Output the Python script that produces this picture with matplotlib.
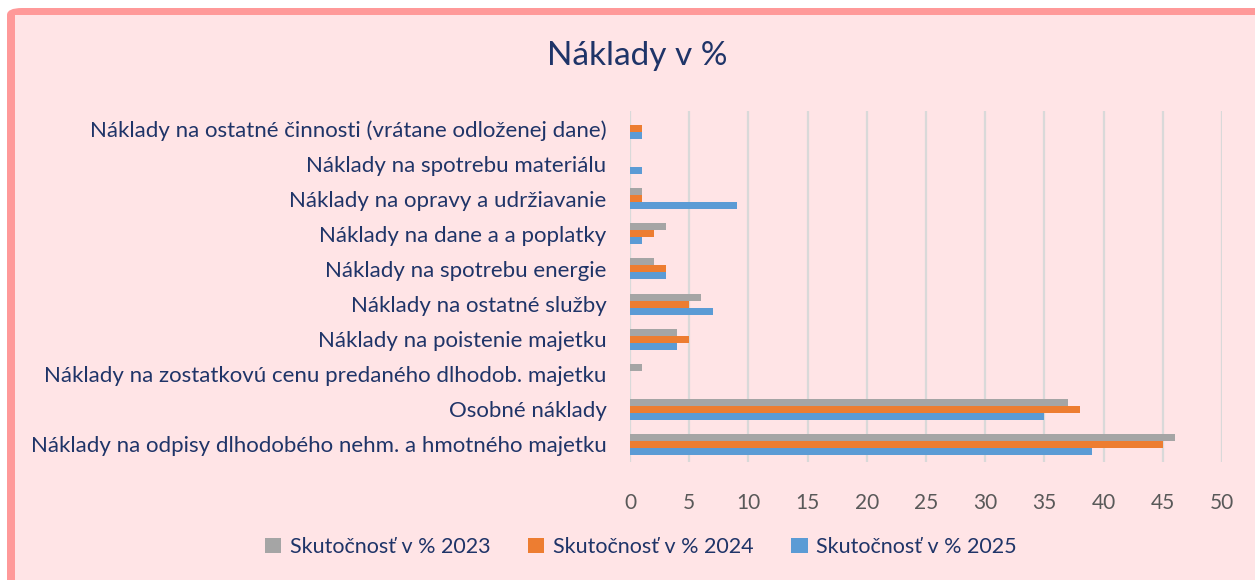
import matplotlib.pyplot as plt
import numpy as np
from matplotlib.patches import FancyBboxPatch, Rectangle

# categories listed bottom -> top
categories = [
    "Náklady na odpisy dlhodobého nehm. a hmotného majetku",
    "Osobné náklady",
    "Náklady na zostatkovú cenu predaného dlhodob. majetku",
    "Náklady na poistenie majetku",
    "Náklady na ostatné služby",
    "Náklady na spotrebu energie",
    "Náklady na dane a a poplatky",
    "Náklady na opravy a udržiavanie",
    "Náklady na spotrebu materiálu",
    "Náklady na ostatné činnosti (vrátane odloženej dane)",
]
vals_2023 = [46, 37, 1, 4, 6, 2, 3, 1, 0, 0]
vals_2024 = [45, 38, 0, 5, 5, 3, 2, 1, 0, 1]
vals_2025 = [39, 35, 0, 4, 7, 3, 1, 9, 1, 1]
series_names = ["Skutočnosť v % 2023", "Skutočnosť v % 2024", "Skutočnosť v % 2025"]
xticks = [0, 5, 10, 15, 20, 25, 30, 35, 40, 45, 50]

navy = "#1F3468"
bg = "#FFE4E6"
plt.rcParams['font.family'] = ['Lato', 'DejaVu Sans']

fig = plt.figure(figsize=(12.55, 5.8), dpi=100, facecolor="white")
W, H = 1255, 580
# frame: pink border with rounded top-left corner
fig.patches.append(FancyBboxPatch((7 / W, -0.1), 1.2, (580 - 8) / H + 0.1,
                                  boxstyle="round,pad=0,rounding_size=0.012",
                                  transform=fig.transFigure, facecolor="#FF9999",
                                  edgecolor="none", zorder=-2))
fig.patches.append(Rectangle((15 / W, -0.1), 1.2, (580 - 15) / H + 0.1,
                             transform=fig.transFigure, facecolor=bg,
                             edgecolor="none", zorder=-1))

ax = fig.add_axes([630 / W, 1 - 462 / H, (1222 - 630) / W, (462 - 111) / H])
ax.set_facecolor("none")

y = np.arange(len(categories))
h = 0.2
ax.barh(y + h, vals_2023, height=h, color="#A5A5A5", label=series_names[0], zorder=3)
ax.barh(y, vals_2024, height=h, color="#ED7D31", label=series_names[1], zorder=3)
ax.barh(y - h, vals_2025, height=h, color="#5B9BD5", label=series_names[2], zorder=3)

ax.set_xlim(0, 50)
ax.set_ylim(-0.5, len(categories) - 0.5)
ax.set_xticks(xticks)
ax.set_yticks(y)
ax.set_yticklabels(categories, color=navy, fontsize=16)
ax.tick_params(axis="y", length=0, pad=17)
ax.tick_params(axis="x", length=0, pad=22, labelcolor="#595959", labelsize=15)
ax.grid(axis="x", color="#D9D9D9", linewidth=1.6, zorder=0)
for s in ax.spines.values():
    s.set_visible(False)

fig.text(637 / W, 1 - 56 / H, "Náklady v %", ha="center", va="center",
         fontsize=24, color=navy)

leg = fig.legend(loc="center", bbox_to_anchor=(641 / W, 1 - 547 / H), ncol=3,
                 frameon=False, fontsize=15.5, handlelength=0.75, handleheight=0.75,
                 handletextpad=0.4, columnspacing=1.75)
for t in leg.get_texts():
    t.set_color(navy)

fig.savefig("out.png", dpi=100, facecolor=fig.get_facecolor())
